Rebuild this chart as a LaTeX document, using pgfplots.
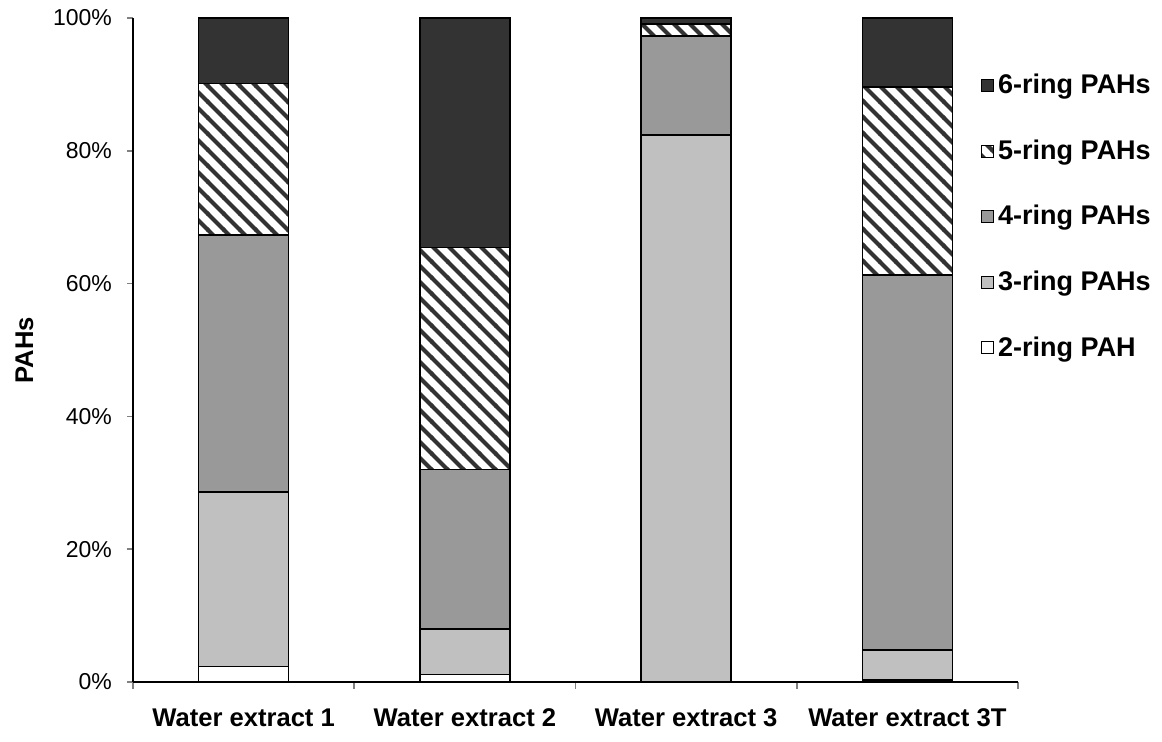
\documentclass[border=0pt]{standalone}
\usepackage{pgfplots}
\pgfplotsset{compat=1.18}
\usepackage{pgfplotstable}
\usepackage{fontspec}
\setmainfont{Liberation Sans}
\usetikzlibrary{patterns}

% wide diagonal stripes like the spreadsheet hatch
\pgfdeclarepatternformonly{widestripes}{\pgfqpoint{-1pt}{-1pt}}{\pgfqpoint{9pt}{9pt}}{\pgfqpoint{8pt}{8pt}}{%
  \pgfsetlinewidth{2.1pt}
  \pgfpathmoveto{\pgfqpoint{-1pt}{9pt}}\pgfpathlineto{\pgfqpoint{9pt}{-1pt}}
  \pgfusepath{stroke}}

\definecolor{ring6}{HTML}{333333}
\definecolor{ring4}{HTML}{999999}
\definecolor{ring3}{HTML}{C0C0C0}

% percentage of each ring class per extract
\pgfplotstableread{
x    r2   r3    r4    r5    r6
0.5  2.3  26.3  38.7  22.8  9.9
1.5  1.1  6.9   24.0  33.4  34.6
2.5  0.0  82.4  14.9  1.8   0.9
3.5  0.3  4.5   56.5  28.3  10.4
}\pahdata

\begin{document}
\begin{tikzpicture}
\begin{axis}[
    scale only axis,
    width=442.5pt, height=332pt,
    ybar stacked, bar width=45pt, bar shift=0pt,
    xmin=0, xmax=4, ymin=0, ymax=100,
    axis x line*=bottom, axis y line*=left,
    axis line style={line width=0.8pt},
    xtick={0.5,1.5,2.5,3.5},
    xticklabels={Water extract 1, Water extract 2, Water extract 3, Water extract 3T},
    major x tick style={draw=none},
    minor xtick={0,1,2,3,4},
    minor tick length=3.5pt,
    minor x tick style={line width=0.8pt},
    xticklabel style={font=\fontsize{12.8}{14}\selectfont\bfseries, yshift=-7pt},
    ytick={0,20,40,60,80,100},
    yticklabel={\pgfmathprintnumber{\tick}\%},
    /pgf/number format/assume math mode=true,
    yticklabel style={font=\fontsize{11.5}{13}\selectfont, xshift=-4pt},
    major tick length=3pt,
    tick align=outside,
    y tick style={line width=0.8pt},
    ylabel={PAHs},
    ylabel style={font=\fontsize{12.8}{14}\selectfont\bfseries, yshift=3pt},
    every axis plot/.append style={draw=black, line width=0.7pt},
    legend reversed,
    legend style={at={(rel axis cs:0.958,0.922)}, anchor=north west, draw=none, fill=none,
        font=\fontsize{13.5}{15}\selectfont\bfseries, row sep=17.5pt, inner sep=0pt},
    legend cell align=left,
    legend image code/.code={\draw[#1, draw=black, line width=0.5pt] (0pt,-3pt) rectangle (6pt,3pt);},
]
\addplot[fill=white] table[x=x, y=r2] {\pahdata};
\addlegendentry{2-ring PAH}
\addplot[fill=ring3] table[x=x, y=r3] {\pahdata};
\addlegendentry{3-ring PAHs}
\addplot[fill=ring4] table[x=x, y=r4] {\pahdata};
\addlegendentry{4-ring PAHs}
\addplot[pattern=widestripes, pattern color=black!80] table[x=x, y=r5] {\pahdata};
\addlegendentry{5-ring PAHs}
\addplot[fill=ring6] table[x=x, y=r6] {\pahdata};
\addlegendentry{6-ring PAHs}
\end{axis}
\pgfresetboundingbox
\path (-66.5pt,-30pt) rectangle (514.5pt,341pt);
\end{tikzpicture}
\end{document}
